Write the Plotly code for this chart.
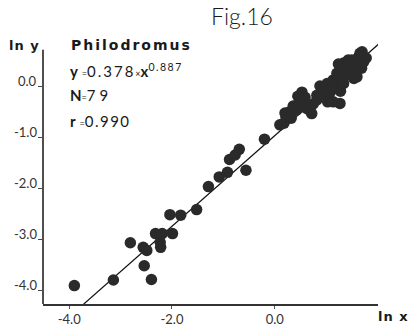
import math
import plotly.graph_objects as go

# ---- data (ln x, ln y) ----
ln_x = [-3.90, -3.14, -2.81, -2.56, -2.49, -2.54, -2.40, -2.32, -2.19, -2.23,
        -2.22, -1.99, -2.04, -1.83, -1.52, -1.29, -1.08, -0.92, -0.56, -0.88,
        -0.77, -0.69, -0.20, 0.10,
        0.18, 0.22, 0.28, 0.36, 0.43, 0.32, 0.49, 0.53, 0.59, 0.57,
        0.65, 0.69, 0.75, 0.82, 0.82, 0.88, 0.95, 1.01, 1.03, 1.08,
        1.14, 1.02, 1.18, 1.21, 1.28, 1.27, 1.21, 1.27, 1.24, 1.34,
        1.30, 1.40, 1.41, 1.47, 1.53, 1.54, 1.50, 1.58, 1.63, 1.69,
        1.73, 1.66, 1.70, 1.78, 0.20, 0.62, 0.72, 1.14, 1.34, 1.08,
        1.43, 1.60, 0.88, 0.45, 1.37]
ln_y = [-3.91, -3.80, -3.07, -3.16, -3.22, -3.52, -3.79, -2.89, -2.89, -3.06,
        -3.16, -2.89, -2.52, -2.53, -2.42, -1.97, -1.78, -1.69, -1.65, -1.44,
        -1.35, -1.24, -1.04, -0.76,
        -0.73, -0.61, -0.51, -0.39, -0.47, -0.63, -0.27, -0.12, -0.22, -0.33,
        -0.41, -0.49, -0.35, -0.27, -0.18, 0.00, -0.08, -0.21, -0.31, -0.12,
        0.12, 0.05, 0.08, -0.05, -0.10, -0.34, 0.25, 0.18, 0.43, 0.45,
        0.22, 0.22, 0.45, 0.37, 0.29, 0.15, 0.51, 0.43, 0.57, 0.35,
        0.47, 0.64, 0.67, 0.55, -0.53, -0.44, -0.54, -0.31, 0.05, -0.04,
        0.51, 0.18, -0.18, -0.20, 0.31]

# regression: y = 0.378 * x^0.887  ->  ln y = ln(0.378) + 0.887 ln x
fit_a = 0.378
fit_b = 0.887
line_x = [-3.72, 2.02]

x_tick_vals = [-4, -2, 0]
x_tick_text = ["-4.0", "-2.0", "0.0"]
y_tick_vals = [0, -1, -2, -3, -4]
y_tick_text = ["0.0", "-1.0", "-2.0", "-3.0", "-4.0"]

line_y = [math.log(fit_a) + fit_b * v for v in line_x]

INK = "#2a2a2a"
FONT = "Lato"

fig = go.Figure()
fig.add_trace(go.Scatter(x=line_x, y=line_y, mode="lines",
                         line=dict(color="#111111", width=1.3),
                         hoverinfo="skip", showlegend=False))
fig.add_trace(go.Scatter(x=ln_x, y=ln_y, mode="markers",
                         marker=dict(color=INK, size=11.5, line=dict(width=0)),
                         cliponaxis=False, showlegend=False))

X0, X1 = -4.51, 2.01
Y0, Y1 = -4.27, 0.902

fig.update_layout(
    width=414, height=327,
    margin=dict(l=43, r=36, t=40, b=23),
    paper_bgcolor="white", plot_bgcolor="white",
    hovermode=False,
    font=dict(family=FONT, color="#333333"),
    xaxis=dict(range=[X0, X1], showgrid=False, zeroline=False, automargin=False,
               showline=True, linecolor="#333333", linewidth=1.5,
               ticks="outside", ticklen=3, tickcolor="#555555",
               tickvals=x_tick_vals, ticktext=x_tick_text,
               tickfont=dict(size=13, family=FONT, color="#333333")),
    yaxis=dict(range=[Y0, Y1], showgrid=False, zeroline=False, automargin=False,
               showline=False, ticks="outside", ticklen=4,
               tickcolor="#444444", tickvals=y_tick_vals,
               showticklabels=False),
    shapes=[dict(type="line", xref="paper", yref="y", x0=0, x1=0,
                 y0=Y0, y1=0.71, line=dict(color="#222222", width=1.6))],
)

for v, t in zip(y_tick_vals, y_tick_text):
    fig.add_annotation(x=-0.012, xref="paper", y=v, yref="y", yshift=5,
                       text=t, showarrow=False, xanchor="right",
                       font=dict(size=13, family=FONT, color="#333333"))

def ann(x, y, text, size, weight=None, family=FONT, color="#1a1a1a", yanchor="middle"):
    f = dict(size=size, family=family, color=color)
    if weight is not None:
        f["weight"] = weight
    fig.add_annotation(x=x, y=y, xref="paper", yref="paper", text=text,
                       showarrow=False, xanchor="left", yanchor=yanchor,
                       font=f)

ann(0.4955, 1.091, "Fig.16", 23, weight=300, family="Lato Light, Lato")
ann(-0.1075, 0.981, "<span style='letter-spacing:1px'><b>ln y</b></span>", 13, family="DejaVu Sans")
ann(0.0776, 0.981, "<span style='letter-spacing:2px'><b>Philodromus</b></span>", 14, family="DejaVu Sans")
ann(0.0746, 0.885,
    "<b>y</b> <span style='font-size:9px'>=</span><span style='letter-spacing:2px'>0.378</span>"
    "<span style='font-size:9px'>×</span><b>x</b><sup><span style='letter-spacing:1.5px'>0.887</span></sup>",
    15)
ann(0.0746, 0.792, "<b>N</b><span style='font-size:9px'>=</span><span style='letter-spacing:4px'>79</span>", 15)
ann(0.0746, 0.693, "<b>r</b> <span style='font-size:9px'>=</span><span style='letter-spacing:1.5px'>0.990</span>", 15)
ann(0.994, -0.012, "<span style='letter-spacing:1px'><b>ln x</b></span>", 13,
    family="DejaVu Sans", yanchor="top")

fig.write_html(
    "out.html",
    config={"displayModeBar": False, "staticPlot": True},
    post_script=("document.documentElement.style.margin='0';"
                 "document.documentElement.style.overflow='hidden';"
                 "document.body.style.margin='0';"
                 "document.body.style.overflow='hidden';"),
)
